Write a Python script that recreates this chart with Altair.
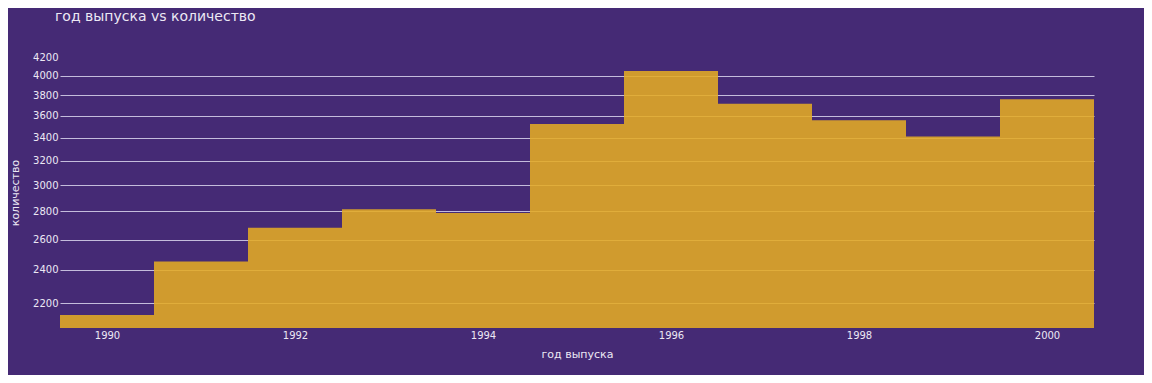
import altair as alt
import pandas as pd

years = [1990, 1991, 1992, 1993, 1994, 1995, 1996, 1997, 1998, 1999, 2000]
counts = [2132, 2455, 2682, 2817, 2788, 3524, 4053, 3719, 3560, 3410, 3762]
y_ticks = [2200, 2400, 2600, 2800, 3000, 3200, 3400, 3600, 3800, 4000, 4200]
x_ticks = [1990, 1992, 1994, 1996, 1998, 2000]

df = pd.DataFrame({"год выпуска": years, "количество": counts})

BG = "#452a75"
TXT = "#ece8f4"
FONT = "DejaVu Sans"

chart = (
    alt.Chart(df)
    .transform_calculate(x0="datum['год выпуска'] - 0.5", x1="datum['год выпуска'] + 0.5")
    .mark_rect(color="#e4ab24", opacity=0.88)
    .encode(
        x=alt.X(
            "x0:Q",
            title="год выпуска",
            scale=alt.Scale(domain=[1989.5, 2000.5], nice=False, zero=False),
            axis=alt.Axis(values=x_ticks, format="d", grid=False, ticks=False, domain=False,
                          labelPadding=2, titlePadding=8),
        ),
        x2="x1:Q",
        y=alt.Y(
            "количество:Q",
            title="количество",
            scale=alt.Scale(type="log", domain=[2060, 4205], nice=False, zero=False),
            axis=alt.Axis(values=y_ticks, format="d", grid=True, ticks=False, domain=False,
                          labelPadding=2, titlePadding=12,
                          gridOpacity={"condition": {"test": "datum.value >= 4200", "value": 0}, "value": 1}),
        ),
        y2=alt.datum(2060),
        tooltip=["год выпуска:O", "количество:Q"],
    )
    .properties(
        width=1034,
        height=271,
        padding={"left": 52, "top": 49, "right": 50, "bottom": 47},
        autosize=alt.AutoSizeParams(type="none"),
        background=BG,
        title=alt.Title("год выпуска vs количество", anchor="start", frame="group", dx=-5, offset=28,
                        fontSize=14, font=FONT, fontWeight="normal", color=TXT),
    )
    .configure_view(stroke=None)
    .configure_axis(
        labelFont=FONT, labelFontSize=10, labelColor=TXT,
        titleFont=FONT, titleFontSize=11, titleColor=TXT, titleFontWeight="normal",
        gridColor="#c4bcdc", gridWidth=1,
    )
)

chart.save("out.html", embed_options={"renderer": "svg", "actions": False})
